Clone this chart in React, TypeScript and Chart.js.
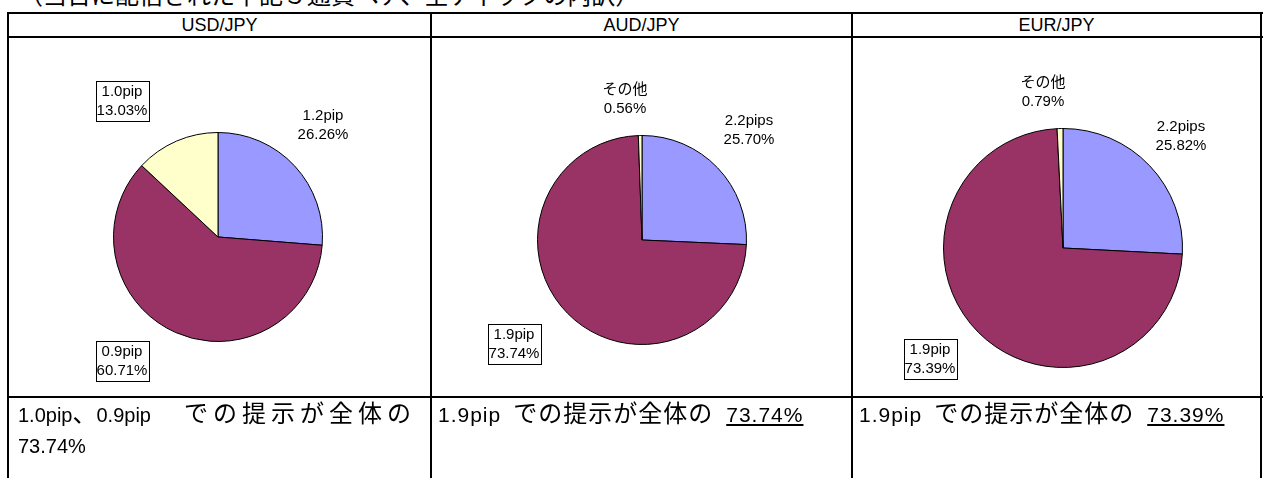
import React, { useEffect, useRef } from "react";
import { Chart, registerables } from "chart.js";

Chart.register(...registerables);

const titleText = "（当日に配信された下記３通貨ペア、全ティックの内訳）";
const pairNames = ["USD/JPY", "AUD/JPY", "EUR/JPY"];

const usdLabels = ["1.2pip", "0.9pip", "1.0pip"];
const usdValues = [26.26, 60.71, 13.03];
const audLabels = ["2.2pips", "1.9pip", "その他"];
const audValues = [25.7, 73.74, 0.56];
const eurLabels = ["2.2pips", "1.9pip", "その他"];
const eurValues = [25.82, 73.39, 0.79];

const sliceColors = ["#9999FF", "#993366", "#FFFFCC"];

const CJK = "'Noto Sans CJK JP', sans-serif";
const LATIN = "'Liberation Sans', 'Noto Sans CJK JP', sans-serif";
const LABEL_FONT = "15px 'Liberation Sans', 'Noto Sans CJK JP', sans-serif";

type Placement = { dx: number; dy: number; boxed?: boolean };

const pieLabelPlugin = {
  id: "pieLabels",
  afterDatasetsDraw(chart: any, _args: any, opts: any) {
    const meta = chart.getDatasetMeta(0);
    if (!meta.data.length) return;
    const cx = meta.data[0].x;
    const cy = meta.data[0].y;
    const labels = chart.data.labels as string[];
    const values = chart.data.datasets[0].data as number[];
    const ctx = chart.ctx as CanvasRenderingContext2D;
    const lh = opts.lineHeight;
    ctx.save();
    ctx.font = opts.font;
    ctx.textAlign = "center";
    ctx.textBaseline = "middle";
    (opts.placements as Placement[]).forEach((p, i) => {
      const l1 = labels[i];
      const l2 = values[i].toFixed(2) + "%";
      const x = cx + p.dx;
      const y = cy + p.dy;
      if (p.boxed) {
        const w = Math.round(Math.max(ctx.measureText(l1).width, ctx.measureText(l2).width) + 2);
        const h = lh * 2;
        const bx = Math.round(x - w / 2) + 0.5;
        const by = Math.round(y - h / 2) + 0.5;
        ctx.fillStyle = "#ffffff";
        ctx.fillRect(bx, by, w, h);
        ctx.strokeStyle = "#000000";
        ctx.lineWidth = 1;
        ctx.strokeRect(bx, by, w, h);
      }
      ctx.fillStyle = "#000000";
      ctx.fillText(l1, x, y - lh / 2 + 1);
      ctx.fillText(l2, x, y + lh / 2);
    });
    ctx.restore();
  },
};

type PieProps = {
  left: number;
  top: number;
  width: number;
  height: number;
  labels: string[];
  values: number[];
  cx: number;
  cy: number;
  r: number;
  placements: Placement[];
};

function PieCell(props: PieProps) {
  const ref = useRef<HTMLCanvasElement>(null);
  useEffect(() => {
    const { left, top, width, height, labels, values, cx, cy, r, placements } = props;
    const lx = cx - left;
    const ly = cy - top;
    const chart = new Chart(ref.current as HTMLCanvasElement, {
      type: "pie",
      data: {
        labels,
        datasets: [
          {
            data: values,
            backgroundColor: sliceColors,
            borderColor: "#000000",
            borderWidth: 1,
          },
        ],
      },
      options: {
        responsive: false,
        animation: false,
        devicePixelRatio: 1,
        layout: {
          padding: {
            left: lx - r,
            top: ly - r,
            right: width - lx - r,
            bottom: height - ly - r,
          },
        },
        plugins: {
          legend: { display: false },
          tooltip: { enabled: false },
          // @ts-ignore
          pieLabels: { placements, font: LABEL_FONT, lineHeight: 20 },
        },
      } as any,
      plugins: [pieLabelPlugin],
    });
    return () => chart.destroy();
  }, []);
  return (
    <canvas
      ref={ref}
      width={props.width}
      height={props.height}
      style={{ position: "absolute", left: props.left, top: props.top, width: props.width, height: props.height }}
    />
  );
}

const colLefts = [8, 431, 852];
const colRights = [431, 852, 1261];
const rowTop = 13;
const headerBottom = 37;
const chartBottom = 397;
const LINE = 2;

const latin = (t: string, extra: React.CSSProperties = {}) => (
  <span style={{ fontFamily: LATIN, fontSize: 20, ...extra }}>{t}</span>
);

export default function App() {
  const hLines = [rowTop, headerBottom, chartBottom];
  const vLines = [8, 431, 852, 1261];
  return (
    <div style={{ position: "absolute", left: 0, top: 0, width: 1265, height: 478, overflow: "hidden", fontFamily: CJK, background: "#fff", color: "#000" }}>
      <div style={{ position: "absolute", left: 19, top: -19, fontSize: 24, lineHeight: "26px", whiteSpace: "nowrap" }}>
        {titleText}
      </div>
      {hLines.map((y, i) => (
        <div key={"h" + i} style={{ position: "absolute", left: 8, top: y - 1, width: 1255, height: LINE, background: "#000" }} />
      ))}
      {vLines.map((x, i) => (
        <div key={"v" + i} style={{ position: "absolute", left: x - 1, top: rowTop - 1, width: LINE, height: 500, background: "#000" }} />
      ))}
      {pairNames.map((n, i) => (
        <div
          key={"p" + i}
          style={{
            position: "absolute",
            left: colLefts[i],
            width: colRights[i] - colLefts[i],
            top: rowTop,
            height: headerBottom - rowTop,
            lineHeight: headerBottom - rowTop + "px",
            textAlign: "center",
            fontSize: 18,
            fontFamily: LATIN,
          }}
        >
          {n}
        </div>
      ))}
      <PieCell
        left={10}
        top={39}
        width={420}
        height={357}
        labels={usdLabels}
        values={usdValues}
        cx={218}
        cy={237}
        r={105}
        placements={[
          { dx: 105, dy: -112 },
          { dx: -96, dy: 124, boxed: true },
          { dx: -96, dy: -136, boxed: true },
        ]}
      />
      <PieCell
        left={433}
        top={39}
        width={418}
        height={357}
        labels={audLabels}
        values={audValues}
        cx={642}
        cy={240}
        r={105}
        placements={[
          { dx: 107, dy: -110 },
          { dx: -128, dy: 104, boxed: true },
          { dx: -17, dy: -141 },
        ]}
      />
      <PieCell
        left={854}
        top={39}
        width={406}
        height={357}
        labels={eurLabels}
        values={eurValues}
        cx={1063}
        cy={248}
        r={120}
        placements={[
          { dx: 118, dy: -112 },
          { dx: -133, dy: 111, boxed: true },
          { dx: -20, dy: -156 },
        ]}
      />
      <div style={{ position: "absolute", left: 18, top: 398, width: 412, fontSize: 24, lineHeight: "28px" }}>
        <div style={{ whiteSpace: "nowrap" }}>
          {latin("1.0pip")}、{latin("0.9pip")}
          <span style={{ marginLeft: 33, letterSpacing: 5 }}>での提示が全体の</span>
        </div>
        <div>{latin("73.74%")}</div>
      </div>
      {[
        { left: 438, pct: "73.74%" },
        { left: 859, pct: "73.39%" },
      ].map((c, i) => (
        <div key={"b" + i} style={{ position: "absolute", left: c.left, top: 398, width: 410, fontSize: 24, lineHeight: "28px", whiteSpace: "nowrap" }}>
          {latin("1.9pip", { fontSize: 21, letterSpacing: 1 })}
          <span style={{ marginLeft: 12, letterSpacing: 1 }}>での提示が全体の</span>
          {latin(c.pct, { fontSize: 21, marginLeft: 13, letterSpacing: 1, textDecoration: "underline" })}
        </div>
      ))}
    </div>
  );
}
